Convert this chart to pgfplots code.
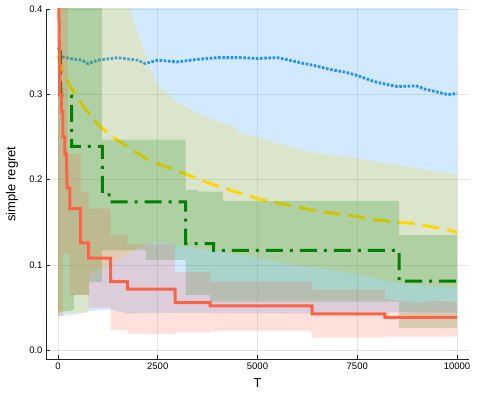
\documentclass[border=0pt]{standalone}
\usepackage{pgfplots}
\pgfplotsset{compat=1.18}
\usepackage{fontspec}
\setmainfont{Liberation Sans}
\definecolor{dodger}{HTML}{1E90FF}
\definecolor{goldc}{HTML}{FFD700}
\definecolor{greenc}{HTML}{008000}
\definecolor{tomato}{HTML}{FF6347}
\begin{document}
\begin{tikzpicture}
\useasboundingbox (-46pt,-40pt) rectangle (432pt,359pt);
\begin{axis}[
  scale only axis, width=423pt, height=350pt,
  xmin=-300, xmax=10300, ymin=-0.0102, ymax=0.4,
  axis x line*=bottom, axis y line*=left,
  axis line style={-, black!85, line width=0.8pt},
  xtick={0,2500,5000,7500,10000}, ytick={0,0.1,0.2,0.3,0.4},
  scaled ticks=false,
  xticklabel style={/pgf/number format/1000 sep={}},
  yticklabel style={/pgf/number format/.cd, fixed, fixed zerofill, precision=1},
  /pgf/number format/assume math mode=true,
  ticklabel style={font=\fontsize{9.5}{11}\selectfont},
  tick align=inside, major tick length=4pt, tick style={black!85, line width=0.6pt},
  grid=major, grid style={black, opacity=0.1, line width=0.5pt},
  xlabel={T}, ylabel={simple regret},
  label style={font=\fontsize{13}{15}\selectfont},
  xlabel style={at={(axis description cs:0.5,-0.0686)}, anchor=center},
  ylabel style={at={(axis description cs:-0.0804,0.5)}, anchor=center},
]
% blue ribbon and mean
\addplot[draw=none, fill=dodger, fill opacity=0.2] coordinates {
  (1,0.6) (10000,0.6)
  (10000,0.044) (8000,0.045) (6000,0.043) (3000,0.044) (1750,0.043)
  (1300,0.048) (800,0.046) (300,0.041) (1,0.040)
};
\addplot[dodger, line width=2.8pt, dash pattern=on 2.6pt off 1.6pt] coordinates {
  (1,0.345) (300,0.342) (600,0.340) (750,0.336) (1000,0.340) (1500,0.343)
  (2000,0.340) (2180,0.336) (2500,0.340) (2980,0.338) (3500,0.341)
  (4000,0.343) (4570,0.343) (5000,0.342) (5490,0.343) (5800,0.340)
  (6080,0.337) (6400,0.334) (6830,0.329) (7200,0.326) (7500,0.322)
  (7920,0.315) (8200,0.312) (8510,0.309) (8970,0.310) (9200,0.306)
  (9430,0.3035) (9770,0.2997) (10000,0.301)
};
% yellow ribbon and mean
\addplot[draw=none, fill=goldc, fill opacity=0.2] coordinates {
  (1,0.6) (1700,0.42) (1887,0.386) (2055,0.364) (2300,0.333) (2475,0.313)
  (2890,0.294) (3560,0.276) (4400,0.262) (4570,0.255) (6250,0.233)
  (7500,0.225) (8760,0.2155) (10000,0.206)
  (10000,0.073) (8425,0.079) (7630,0.088) (6625,0.096) (5785,0.101)
  (4950,0.109) (3145,0.122) (2475,0.1275) (2000,0.12) (1300,0.10)
  (800,0.09) (760,0.044) (1,0.044)
};
\addplot[goldc, line width=3pt, dash pattern=on 17pt off 8pt] coordinates {
  (1,0.345) (40,0.341) (125,0.326) (340,0.307) (630,0.286) (1050,0.262)
  (1470,0.247) (1890,0.234) (2200,0.225) (2560,0.2175) (3230,0.206)
  (3900,0.194) (4570,0.184) (5070,0.177) (6000,0.168) (6500,0.163)
  (7330,0.158) (7800,0.154) (8500,0.150) (8850,0.149) (9810,0.141)
  (10000,0.138)
};
% green ribbon and mean
\addplot[draw=none, fill=greenc, fill opacity=0.2] coordinates {
  (1,0.6) (1100,0.6) (1100,0.247) (3200,0.247) (3200,0.188) (3520,0.188)
  (3520,0.186) (4130,0.186) (4130,0.175) (8550,0.175) (8550,0.135)
  (10000,0.135)
  (10000,0.026) (8550,0.026) (8550,0.057) (3815,0.057) (3815,0.065)
  (3200,0.065) (3200,0.106) (2200,0.106) (2200,0.117) (1100,0.117)
  (1100,0.08) (780,0.08) (780,0.065) (400,0.065) (400,0.047) (1,0.045)
};
\addplot[greenc, line width=3pt, dash pattern=on 17pt off 7pt on 3pt off 7pt] coordinates {
  (15,0.355) (60,0.35) (65,0.31) (85,0.298) (340,0.298) (340,0.239)
  (1115,0.239) (1115,0.184) (1280,0.184) (1280,0.174) (3200,0.174)
  (3200,0.125) (3900,0.125) (3900,0.117) (8550,0.117) (8550,0.081)
  (10000,0.081)
};
% red ribbon and mean
\addplot[draw=none, fill=tomato, fill opacity=0.2] coordinates {
  (1,0.6) (250,0.6) (250,0.23) (570,0.23) (570,0.186) (770,0.186)
  (770,0.166) (1320,0.166) (1320,0.135) (1745,0.135) (1745,0.124)
  (2935,0.124) (2935,0.092) (3815,0.092) (3815,0.0805) (6370,0.0805)
  (6370,0.0708) (8190,0.0708) (8190,0.06) (8600,0.058) (9000,0.056)
  (9400,0.058) (10000,0.057)
  (10000,0.016) (8190,0.016) (8190,0.0148) (6370,0.0148) (6370,0.0226)
  (3815,0.0226) (3815,0.0207) (2935,0.0207) (2935,0.019) (1745,0.019)
  (1745,0.024) (1320,0.024) (1320,0.05) (770,0.05) (770,0.065)
  (290,0.065) (290,0.113) (130,0.113) (130,0.04) (1,0.04)
};
\addplot[tomato, line width=3pt] coordinates {
  (1,0.46) (20,0.41) (30,0.37) (40,0.33) (40,0.30) (85,0.30) (85,0.28)
  (125,0.28) (125,0.25) (170,0.25) (170,0.23) (210,0.23) (230,0.19)
  (300,0.19) (300,0.166) (570,0.166) (570,0.126) (770,0.126) (770,0.108)
  (1320,0.108) (1320,0.0805) (1745,0.0805) (1745,0.0716) (2935,0.0716)
  (2935,0.0559) (3815,0.0559) (3815,0.052) (6370,0.052) (6370,0.0426)
  (8190,0.0426) (8190,0.0387) (10000,0.0387)
};
\end{axis}
\end{tikzpicture}
\end{document}
